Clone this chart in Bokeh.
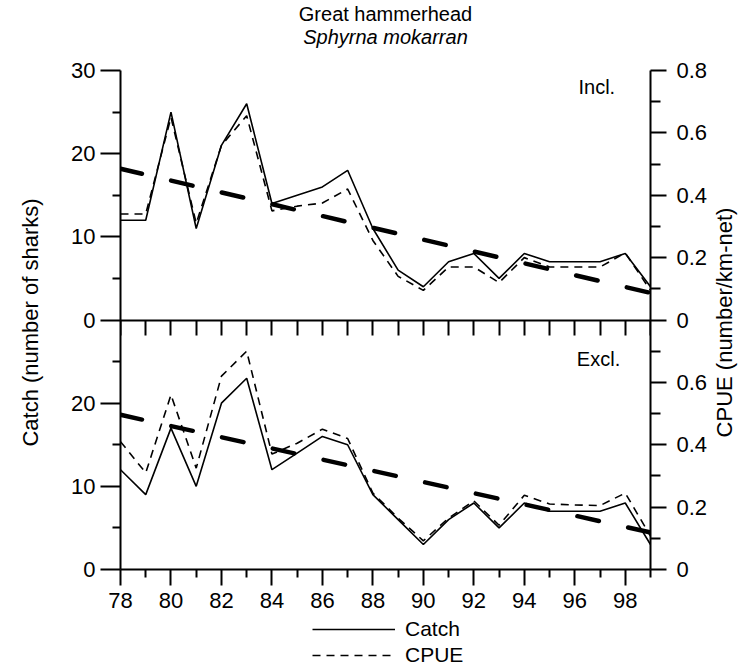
from math import pi
from bokeh.plotting import figure
from bokeh.layouts import column, row
from bokeh.models import (Range1d, LinearAxis, FixedTicker, Label,
                          CustomJSTickFormatter)
from bokeh.embed import file_html
from bokeh.resources import INLINE

# ---------------- data ----------------
years = [78, 79, 80, 81, 82, 83, 84, 85, 86, 87, 88, 89, 90, 91, 92, 93, 94, 95, 96, 97, 98, 99]

# "Incl." panel (top)
catch_incl = [12, 12, 25, 11, 21, 26, 14, 15, 16, 18, 11, 6, 4, 7, 8, 5, 8, 7, 7, 7, 8, 4]
cpue_incl = [0.34, 0.34, 0.65, 0.31, 0.56, 0.655, 0.35, 0.365, 0.375, 0.42, 0.255, 0.14,
             0.095, 0.17, 0.17, 0.12, 0.20, 0.17, 0.17, 0.17, 0.215, 0.095]

# "Excl." panel (bottom)
catch_excl = [12, 9, 17, 10, 20, 23, 12, 14, 16, 15, 9, 6, 3, 6, 8, 5, 8, 7, 7, 7, 8, 3]
cpue_excl = [0.41, 0.31, 0.56, 0.325, 0.62, 0.70, 0.37, 0.405, 0.45, 0.42, 0.245, 0.165,
             0.092, 0.165, 0.22, 0.142, 0.238, 0.21, 0.207, 0.205, 0.245, 0.107]

# CPUE trend lines (end points)
trend_years = [78, 99]
trend_incl = [0.485, 0.087]
trend_excl = [0.496, 0.119]

# axis ticks of one panel (both panels use the same scales)
catch_ticks = [0, 10, 20, 30]
catch_minor = [5, 15, 25]
cpue_ticks = [0, 0.2, 0.4, 0.6, 0.8]
cpue_minor = [0.1, 0.3, 0.5, 0.7]
year_major = [78, 80, 82, 84, 86, 88, 90, 92, 94, 96, 98]
year_minor = [79, 81, 83, 85, 87, 89, 91, 93, 95, 97, 99]

title_main = "Great hammerhead"
title_sub = "Sphyrna mokarran"
ylabel_left = "Catch (number of sharks)"
ylabel_right = "CPUE (number/km-net)"
legend_labels = ["Catch", "CPUE"]
panel_tags = ["Incl.", "Excl."]

CATCH_SPAN = 30     # catch axis of one panel: 0..30
CPUE_SPAN = 0.8     # cpue axis of one panel: 0..0.8

FONT = "Liberation Sans"
TICK_FS = "22px"
LW_AX = 2
CATCH_STYLE = dict(line_color="black", line_width=1.6)
CPUE_STYLE = dict(line_color="black", line_width=1.6, line_dash="8 6")
TREND_STYLE = dict(line_color="black", line_width=4.5, line_dash="22 30", line_cap="round")

# ---------------- layout sizes ----------------
LW, RW = 50, 38
PW = 748 - LW - RW
TH = 54
LH = 50
MH = 667 - TH - LH
BL, BR = 70, 58
BT = 16


def style_axis(ax, ticks, minor, tick_out, minor_out, standoff):
    ax.ticker = FixedTicker(ticks=ticks, minor_ticks=minor)
    ax.major_tick_in = 0
    ax.minor_tick_in = 0
    ax.major_tick_out = tick_out
    ax.minor_tick_out = minor_out
    ax.axis_line_width = LW_AX
    ax.major_tick_line_width = LW_AX
    ax.minor_tick_line_width = LW_AX
    ax.axis_line_color = "black"
    ax.major_tick_line_color = "black"
    ax.minor_tick_line_color = "black"
    ax.major_label_text_font = FONT
    ax.major_label_text_font_size = TICK_FS
    ax.major_label_text_color = "black"
    ax.major_label_standoff = standoff


# ---------------- main figure: both panels share one frame ----------------
# Bottom panel (Excl.) uses the default ranges, whose lower half is 0..30 / 0..0.8.
# Top panel (Incl.) uses ranges whose 0 sits at the middle of the frame.
p = figure(width=PW, height=MH, x_range=Range1d(78, 99),
           y_range=Range1d(0, 2 * CATCH_SPAN),
           output_backend="svg", toolbar_location=None,
           x_axis_location=None, y_axis_location=None,
           min_border_left=BL, min_border_right=BR,
           min_border_top=BT, min_border_bottom=MH - BT - 499)
p.extra_y_ranges = {"catch_top": Range1d(-CATCH_SPAN, CATCH_SPAN),
                    "cpue_top": Range1d(-CPUE_SPAN, CPUE_SPAN),
                    "cpue_bot": Range1d(0, 2 * CPUE_SPAN)}
p.grid.visible = False
p.outline_line_color = None

# left axis: ticks of the lower panel, then of the upper panel (shifted by one panel)
lax = LinearAxis()
style_axis(lax, catch_ticks[:-1] + [t + CATCH_SPAN for t in catch_ticks],
           catch_minor + [t + CATCH_SPAN for t in catch_minor], 20, 8, 5)
lax.formatter = CustomJSTickFormatter(args=dict(off=CATCH_SPAN), code="""
    const v = tick >= off - 1e-9 ? tick - off : tick;
    return String(Math.round(v * 10) / 10);
""")
p.add_layout(lax, "left")

# right axis
rax = LinearAxis(y_range_name="cpue_bot")
style_axis(rax, cpue_ticks[:-1] + [t + CPUE_SPAN for t in cpue_ticks],
           cpue_minor + [t + CPUE_SPAN for t in cpue_minor], 16, 10, 10)
rax.formatter = CustomJSTickFormatter(args=dict(off=CPUE_SPAN), code="""
    const v = tick >= off - 1e-9 ? tick - off : tick;
    return String(Math.round(v * 10) / 10);
""")
p.add_layout(rax, "right")

# boundary between the panels: ticks pointing down
bax = LinearAxis(fixed_location=CATCH_SPAN)
style_axis(bax, [], years, 0, 15, 0)
p.add_layout(bax, "below")

# bottom year axis
xax = LinearAxis()
style_axis(xax, year_major, year_minor, 16, 8, 7)
p.add_layout(xax, "below")

# lines, top panel
p.line(years, catch_incl, y_range_name="catch_top", **CATCH_STYLE)
p.line(years, cpue_incl, y_range_name="cpue_top", **CPUE_STYLE)
p.line(trend_years, trend_incl, y_range_name="cpue_top", **TREND_STYLE)

# lines, bottom panel
p.line(years, catch_excl, **CATCH_STYLE)
p.line(years, cpue_excl, y_range_name="cpue_bot", **CPUE_STYLE)
p.line(trend_years, trend_excl, y_range_name="cpue_bot", **TREND_STYLE)

p.add_layout(Label(x=97.6, y=28, y_range_name="catch_top", text=panel_tags[0],
                   text_align="right", text_baseline="middle", text_font=FONT,
                   text_font_size="20px", text_color="black"))
p.add_layout(Label(x=97.8, y=25.3, text=panel_tags[1],
                   text_align="right", text_baseline="middle", text_font=FONT,
                   text_font_size="20px", text_color="black"))


# ---------------- helper figures (title strip, legend strip, side labels) ----------------
def blank_fig(width, height, x_range, y_range, left=0, right=0):
    f = figure(width=width, height=height, x_range=x_range, y_range=y_range,
               output_backend="svg", toolbar_location=None,
               x_axis_location=None, y_axis_location=None,
               min_border_left=left, min_border_right=right,
               min_border_top=0, min_border_bottom=0)
    f.grid.visible = False
    f.outline_line_color = None
    return f


# title strip, same horizontal frame as the main figure
tf = blank_fig(PW, TH, Range1d(78, 99), Range1d(TH, 0), BL, BR)
tf.add_layout(Label(x=88.5, y=13, text=title_main, text_align="center",
                    text_baseline="middle", text_font=FONT, text_font_size="20px",
                    text_color="black"))
tf.add_layout(Label(x=88.5, y=36, text=title_sub, text_align="center",
                    text_baseline="middle", text_font=FONT, text_font_size="20px",
                    text_font_style="italic", text_color="black"))

# legend strip: hidden copies of the bottom-panel lines carry the legend entries
lg = blank_fig(PW, LH, Range1d(78, 99), Range1d(0, CATCH_SPAN), BL, BR)
lg.line(years, catch_excl, legend_label=legend_labels[0], visible=False, **CATCH_STYLE)
lg.line(years, cpue_excl, legend_label=legend_labels[1], visible=False, **CPUE_STYLE)
lg.legend.location = (192, 0)
lg.legend.glyph_width = 83
lg.legend.glyph_height = 20
lg.legend.label_standoff = 10
lg.legend.spacing = 2
lg.legend.padding = 0
lg.legend.margin = 0
lg.legend.border_line_color = None
lg.legend.background_fill_alpha = 0
lg.legend.inactive_fill_alpha = 0
lg.legend.label_text_font = FONT
lg.legend.label_text_font_size = "21px"
lg.legend.label_text_color = "black"

lf = blank_fig(LW, 667, Range1d(0, LW), Range1d(667, 0))
lf.add_layout(Label(x=30, y=322, text=ylabel_left, angle=pi / 2, text_align="center",
                    text_baseline="middle", text_font=FONT, text_font_size="22px",
                    text_color="black"))
rf = blank_fig(RW, 667, Range1d(0, RW), Range1d(667, 0))
rf.add_layout(Label(x=14, y=322, text=ylabel_right, angle=pi / 2, text_align="center",
                    text_baseline="middle", text_font=FONT, text_font_size="22px",
                    text_color="black"))

layout = row(lf, column(tf, p, lg, spacing=0), rf, spacing=0)

open("out.html", "w").write(file_html(layout, INLINE))
